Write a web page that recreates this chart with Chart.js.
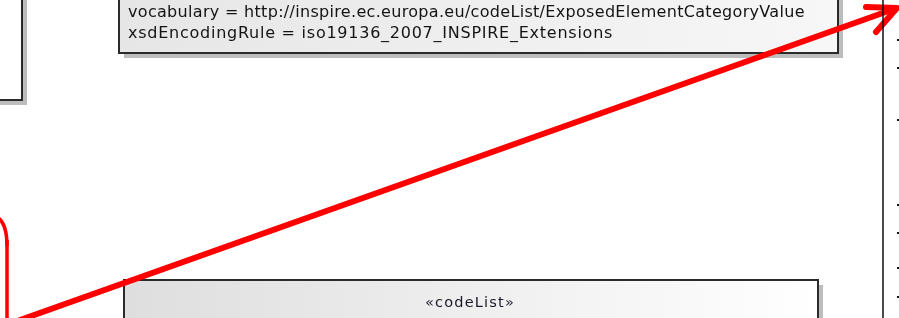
<!DOCTYPE html>
<html>
<head>
<meta charset="utf-8">
<script src="https://cdn.jsdelivr.net/npm/chart.js@4/dist/chart.umd.min.js"></script>
<style>
  body { margin: 0; background: #fff; }
  #wrap { width: 899px; height: 318px; position: relative; }
</style>
</head>
<body>
<div id="wrap"><canvas id="diagram"></canvas></div>
<script>
// Diagram boxes (left, top, right, bottom) in picture units
const boxNames = ['leftBox', 'tagBox', 'codeListBox'];
const boxLeft = [-10, 119, 124];
const boxTop = [-10, -10, 280];
const boxRight = [22, 838, 818];
const boxBottom = [100, 53, 340];
const boxFillFrom = ['#ffffff', '#e6e6e6', '#dedede'];
const boxFillTo = ['#ffffff', '#f7f7f7', '#ffffff'];

// Tagged values text in the upper box
const tagLines = [
    'vocabulary = http://inspire.ec.europa.eu/codeList/ExposedElementCategoryValue',
    'xsdEncodingRule = iso19136_2007_INSPIRE_Extensions'
];
const tagLineY = [13, 34];
const tagLineEnd = [805, 613];

// Code list header
const stereotype = '«codeList»';
const className = 'ExposedElementCategoryValue';

// Red arrow: shaft and head
const arrowShaft = [{ x: 20, y: 320 }, { x: 894, y: 9 }];
const arrowHead = [{ x: 866, y: 7 }, { x: 897, y: 8 }, { x: 876, y: 32 }];

// Red rounded frame on the left (corner only is visible)
const frameSide = [{ x: 7, y: 240 }, { x: 7, y: 320 }];

// Right-hand boundary and clipped list dashes
const boundary = [{ x: 883, y: 0 }, { x: 883, y: 318 }];
const dashY = [40, 68, 120, 205, 233, 268, 297];

// draw text with letter spacing so it spans a given width
function spacedText(ctx, text, x, y, width, font) {
    ctx.font = font;
    ctx.letterSpacing = '0px';
    const natural = ctx.measureText(text).width;
    const gap = (width - natural) / text.length;
    ctx.letterSpacing = gap.toFixed(2) + 'px';
    ctx.fillText(text, x, y);
    ctx.letterSpacing = '0px';
}

const diagramPlugin = {
    id: 'diagram',
    beforeDatasetsDraw(chart) {
        const ctx = chart.ctx;
        const sx = chart.scales.x;
        const sy = chart.scales.y;
        ctx.save();
        boxNames.forEach((name, i) => {
            const x0 = sx.getPixelForValue(boxLeft[i]);
            const x1 = sx.getPixelForValue(boxRight[i]);
            const y0 = sy.getPixelForValue(boxTop[i]);
            const y1 = sy.getPixelForValue(boxBottom[i]);
            // shadow
            ctx.fillStyle = '#bdbdbd';
            ctx.fillRect(x0 + 5, y0 + 5, x1 - x0, y1 - y0);
            // body
            const grad = ctx.createLinearGradient(x0, 0, x1, 0);
            grad.addColorStop(0, boxFillFrom[i]);
            grad.addColorStop(1, boxFillTo[i]);
            ctx.fillStyle = grad;
            ctx.fillRect(x0, y0, x1 - x0, y1 - y0);
            ctx.strokeStyle = '#2b2b2b';
            ctx.lineWidth = 2;
            ctx.strokeRect(x0, y0, x1 - x0, y1 - y0);
        });

        ctx.fillStyle = '#141414';
        ctx.textBaseline = 'middle';
        const textX = sx.getPixelForValue(128);
        tagLines.forEach((line, i) => {
            const w = sx.getPixelForValue(tagLineEnd[i]) - textX;
            spacedText(ctx, line, textX, sy.getPixelForValue(tagLineY[i]), w, '16px "DejaVu Sans"');
        });

        ctx.fillStyle = '#1a1a2a';
        const sx0 = sx.getPixelForValue(425);
        spacedText(ctx, stereotype, sx0, sy.getPixelForValue(303),
                   sx.getPixelForValue(515) - sx0, '14.5px "DejaVu Sans"');
        // class name sits just below the visible edge, only its tops show
        ctx.fillStyle = '#8a86a8';
        const cx0 = sx.getPixelForValue(343);
        spacedText(ctx, className, cx0, sy.getPixelForValue(328),
                   sx.getPixelForValue(598) - cx0, 'bold 15px "DejaVu Sans"');

        // clipped list dashes on the far right
        ctx.fillStyle = '#111';
        dashY.forEach(y => {
            ctx.fillRect(sx.getPixelForValue(897), sy.getPixelForValue(y) - 1, 3, 2);
        });

        // rounded corner of the red frame
        ctx.strokeStyle = '#ff0000';
        ctx.lineWidth = 3.5;
        ctx.beginPath();
        ctx.moveTo(sx.getPixelForValue(-10), sy.getPixelForValue(215));
        ctx.quadraticCurveTo(sx.getPixelForValue(7), sy.getPixelForValue(216),
                             sx.getPixelForValue(7), sy.getPixelForValue(246));
        ctx.stroke();
        ctx.restore();
    }
};

new Chart(document.getElementById('diagram'), {
    type: 'scatter',
    data: {
        datasets: [
            { data: boundary, showLine: true, borderColor: '#111', borderWidth: 1.5, pointRadius: 0 },
            { data: frameSide, showLine: true, borderColor: '#ff0000', borderWidth: 3.5, pointRadius: 0 },
            { data: arrowShaft, showLine: true, borderColor: '#ff0000', borderWidth: 6, pointRadius: 0, borderCapStyle: 'round' },
            { data: arrowHead, showLine: true, borderColor: '#ff0000', borderWidth: 6, pointRadius: 0, borderCapStyle: 'round', borderJoinStyle: 'round' }
        ]
    },
    options: {
        responsive: true,
        maintainAspectRatio: false,
        animation: false,
        layout: { padding: 0 },
        plugins: { legend: { display: false }, tooltip: { enabled: false } },
        scales: {
            x: { type: 'linear', min: 0, max: 899, display: false },
            y: { type: 'linear', min: 0, max: 318, reverse: true, display: false }
        }
    },
    plugins: [diagramPlugin]
});
</script>
</body>
</html>
